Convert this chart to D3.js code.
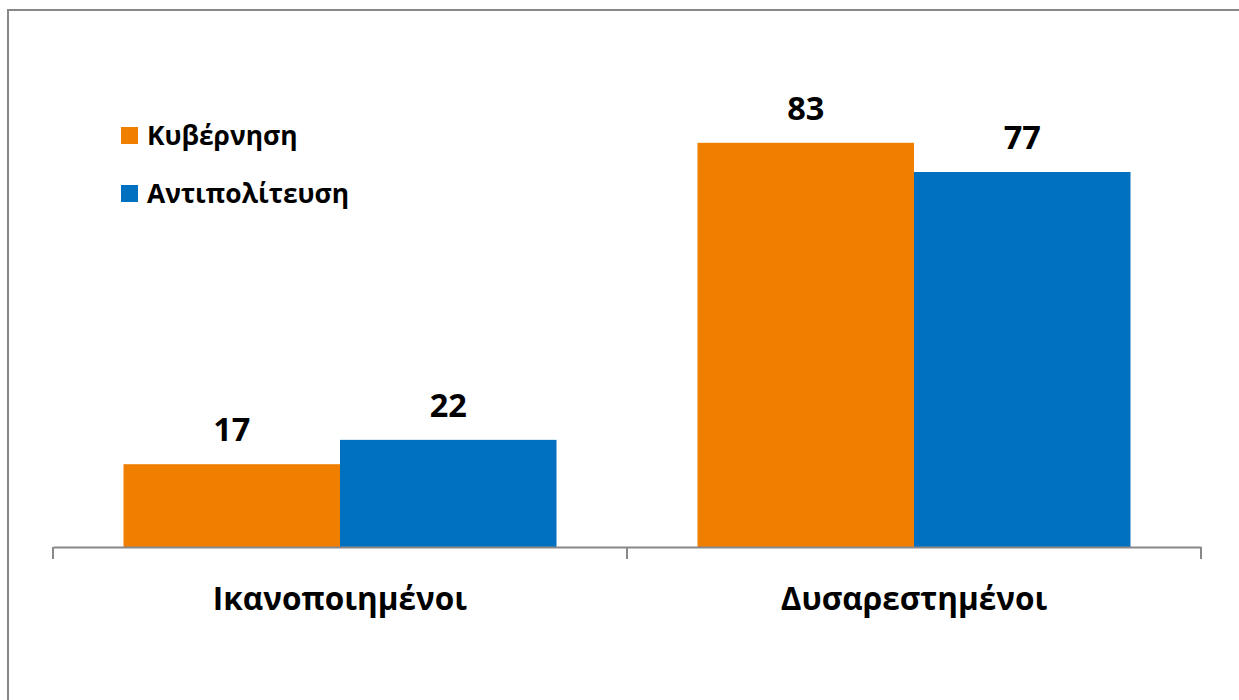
<!DOCTYPE html>
<html><head><meta charset="utf-8">
<script src="https://cdn.jsdelivr.net/npm/d3@7"></script>
<style>body{margin:0;background:#fff}svg{display:block}text{font-family:"Open Sans","Noto Sans",sans-serif;font-weight:bold}</style>
</head><body><svg id="c" width="1239" height="700"></svg>
<script>
const categories = ["Ικανοποιημένοι", "Δυσαρεστημένοι"];
const seriesNames = ["Κυβέρνηση", "Αντιπολίτευση"];
const kyvernisi = [17, 83];
const antipoliteusi = [22, 77];
const colors = ["#F07F00", "#0070C0"];

const svg = d3.select("#c");
// frame
svg.append("path").attr("d","M8,700 V10 H1239").attr("fill","none").attr("stroke","#888").attr("stroke-width",2);

const x0 = d3.scaleBand().domain(categories).range([53,1201]).paddingInner(0).paddingOuter(0);
const x1 = d3.scaleBand().domain(seriesNames).range([0,x0.bandwidth()]).paddingInner(0).paddingOuter(0.3256);
const y = d3.scaleLinear().domain([0,100]).range([547,60]);
const series = [kyvernisi, antipoliteusi];

const g = svg.append("g");
categories.forEach((c,i)=>{
  seriesNames.forEach((s,j)=>{
    const v = series[j][i];
    g.append("rect").attr("x",x0(c)+x1(s)).attr("y",y(v)).attr("width",x1.bandwidth()).attr("height",y(0)-y(v)).attr("fill",colors[j]);
    g.append("text").attr("x",x0(c)+x1(s)+x1.bandwidth()/2).attr("y",y(v)-23).attr("text-anchor","middle").attr("font-size",32.5).attr("fill","#000").text(v);
  });
});

const axis = svg.append("g").attr("transform","translate(0,547)")
  .call(d3.axisBottom(x0).tickValues([]).tickSizeOuter(0));
axis.select(".domain").attr("stroke","#888").attr("stroke-width",2);
// tick marks at band edges
[53, 53+x0.bandwidth(), 1201].forEach(t=>{
  axis.append("line").attr("x1",t).attr("x2",t).attr("y1",0).attr("y2",12).attr("stroke","#888").attr("stroke-width",2);
});
categories.forEach(c=>{
  axis.append("text").attr("x",x0(c)+x0.bandwidth()/2).attr("y",63).attr("text-anchor","middle").attr("font-size",31.5).attr("fill","#000").text(c);
});

// legend
seriesNames.forEach((s,j)=>{
  const ly = 145 + j*58;
  svg.append("rect").attr("x",121).attr("y",ly-18).attr("width",17).attr("height",17).attr("fill",colors[j]);
  svg.append("text").attr("x",147).attr("y",ly).attr("font-size",26.4).attr("fill","#000").text(s);
});
</script></body></html>
